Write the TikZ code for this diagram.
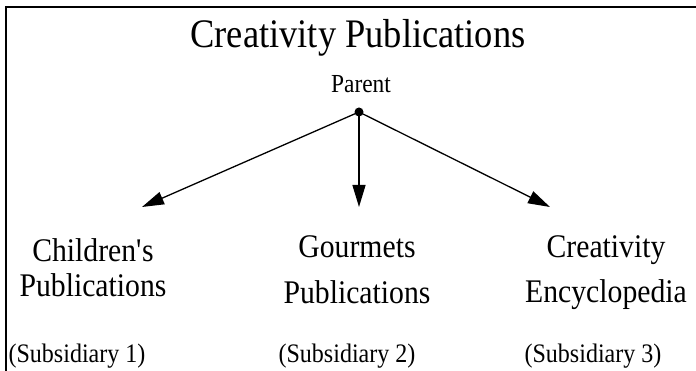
\documentclass[tikz,border=0pt]{standalone}
\usepackage{fontspec}
\setmainfont{Liberation Serif}[FakeStretch=0.9]
\usetikzlibrary{arrows.meta}

\begin{document}
\begin{tikzpicture}[x=1pt,y=-1pt,
  company/.style={inner sep=0pt,anchor=base,align=center,font=\fontsize{33}{44}\selectfont},
  subsid/.style={inner sep=0pt,anchor=base,font=\fontsize{26.7}{32}\selectfont},
  branch/.style={-{Triangle[length=22pt,width=13pt]},line width=1.3pt}]
\useasboundingbox (0,0) rectangle (696,371);
% frame, left and top only
\draw[line width=2pt] (6,371) -- (6,7) -- (696,7);
% parent company
\node[inner sep=0pt,anchor=base,font=\fontsize{40.5}{48}\selectfont] (title) at (358,48) {Creativity Publications};
\node[inner sep=0pt,anchor=base,font=\fontsize{26}{30}\selectfont] (parent) at (361,93) {Parent};
\node[circle,fill,inner sep=0pt,minimum size=9pt] (hub) at (359,112) {};
% subsidiaries (base = last line)
\node[company] (child) at (93,297) {Children\textquotesingle s\\[-9pt]Publications};
\node[company] (gourmet) at (357,304) {Gourmets\\[3pt]Publications};
\node[company] (encyc) at (606,302) {Creativity\\[1pt]Encyclopedia};
\node[subsid] (sub1) at (77,362) {(Subsidiary 1)};
\node[subsid] (sub2) at (347,362) {(Subsidiary 2)};
\node[subsid] (sub3) at (593,362) {(Subsidiary 3)};
% arrows
\coordinate (tipL) at (142,207);
\coordinate (tipM) at (359,207);
\coordinate (tipR) at (550,207);
\draw[branch] (hub.center) -- (tipL);
\draw[branch] (hub.center) -- (tipM);
\draw[branch] (hub.center) -- (tipR);
\end{tikzpicture}
\end{document}
